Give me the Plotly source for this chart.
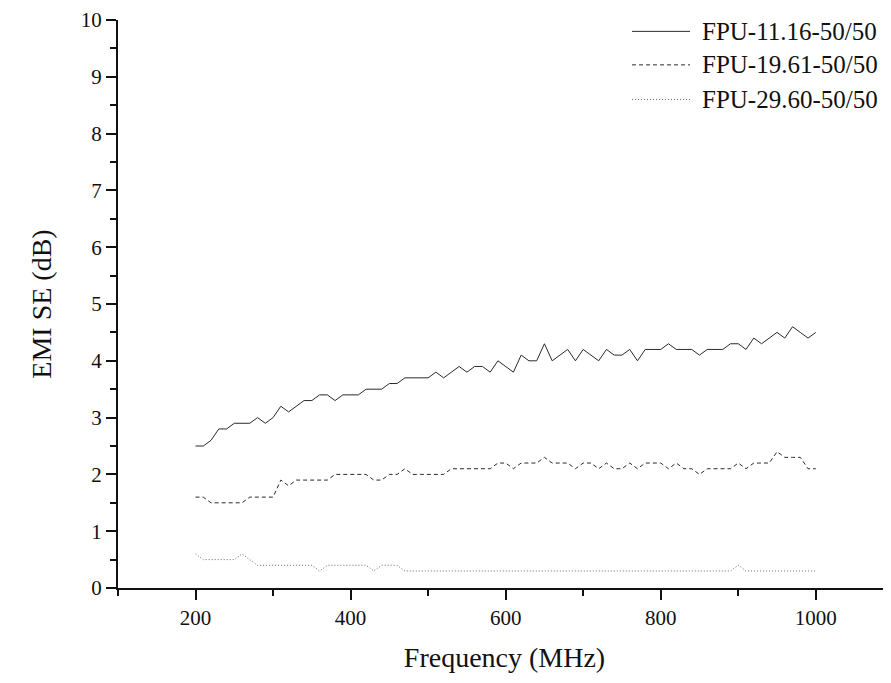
import plotly.graph_objects as go

freq = [200, 210, 220, 230, 240, 250, 260, 270, 280, 290,
        300, 310, 320, 330, 340, 350, 360, 370, 380, 390,
        400, 410, 420, 430, 440, 450, 460, 470, 480, 490,
        500, 510, 520, 530, 540, 550, 560, 570, 580, 590,
        600, 610, 620, 630, 640, 650, 660, 670, 680, 690,
        700, 710, 720, 730, 740, 750, 760, 770, 780, 790,
        800, 810, 820, 830, 840, 850, 860, 870, 880, 890,
        900, 910, 920, 930, 940, 950, 960, 970, 980, 990,
        1000]

fpu_11 = [2.5, 2.5, 2.6, 2.8, 2.8, 2.9, 2.9, 2.9, 3.0, 2.9,
          3.0, 3.2, 3.1, 3.2, 3.3, 3.3, 3.4, 3.4, 3.3, 3.4,
          3.4, 3.4, 3.5, 3.5, 3.5, 3.6, 3.6, 3.7, 3.7, 3.7,
          3.7, 3.8, 3.7, 3.8, 3.9, 3.8, 3.9, 3.9, 3.8, 4.0,
          3.9, 3.8, 4.1, 4.0, 4.0, 4.3, 4.0, 4.1, 4.2, 4.0,
          4.2, 4.1, 4.0, 4.2, 4.1, 4.1, 4.2, 4.0, 4.2, 4.2,
          4.2, 4.3, 4.2, 4.2, 4.2, 4.1, 4.2, 4.2, 4.2, 4.3,
          4.3, 4.2, 4.4, 4.3, 4.4, 4.5, 4.4, 4.6, 4.5, 4.4,
          4.5]

fpu_19 = [1.6, 1.6, 1.5, 1.5, 1.5, 1.5, 1.5, 1.6, 1.6, 1.6,
          1.6, 1.9, 1.8, 1.9, 1.9, 1.9, 1.9, 1.9, 2.0, 2.0,
          2.0, 2.0, 2.0, 1.9, 1.9, 2.0, 2.0, 2.1, 2.0, 2.0,
          2.0, 2.0, 2.0, 2.1, 2.1, 2.1, 2.1, 2.1, 2.1, 2.2,
          2.2, 2.1, 2.2, 2.2, 2.2, 2.3, 2.2, 2.2, 2.2, 2.1,
          2.2, 2.2, 2.1, 2.2, 2.1, 2.1, 2.2, 2.1, 2.2, 2.2,
          2.2, 2.1, 2.2, 2.1, 2.1, 2.0, 2.1, 2.1, 2.1, 2.1,
          2.2, 2.1, 2.2, 2.2, 2.2, 2.4, 2.3, 2.3, 2.3, 2.1,
          2.1]

fpu_29 = [0.6, 0.5, 0.5, 0.5, 0.5, 0.5, 0.6, 0.5, 0.4, 0.4,
          0.4, 0.4, 0.4, 0.4, 0.4, 0.4, 0.3, 0.4, 0.4, 0.4,
          0.4, 0.4, 0.4, 0.3, 0.4, 0.4, 0.4, 0.3, 0.3, 0.3,
          0.3, 0.3, 0.3, 0.3, 0.3, 0.3, 0.3, 0.3, 0.3, 0.3,
          0.3, 0.3, 0.3, 0.3, 0.3, 0.3, 0.3, 0.3, 0.3, 0.3,
          0.3, 0.3, 0.3, 0.3, 0.3, 0.3, 0.3, 0.3, 0.3, 0.3,
          0.3, 0.3, 0.3, 0.3, 0.3, 0.3, 0.3, 0.3, 0.3, 0.3,
          0.4, 0.3, 0.3, 0.3, 0.3, 0.3, 0.3, 0.3, 0.3, 0.3,
          0.3]

series_names = ["FPU-11.16-50/50", "FPU-19.61-50/50", "FPU-29.60-50/50"]
x_tick_vals = [200, 400, 600, 800, 1000]
x_tick_text = ["200", "400", "600", "800", "1000"]
y_tick_vals = [0, 1, 2, 3, 4, 5, 6, 7, 8, 9, 10]

FONT = "Liberation Serif, Times New Roman, serif"
INK = "#111111"
styles = [
    dict(color="#2a2a2a", width=1, dash="solid"),
    dict(color="#2a2a2a", width=1, dash="4px,3px"),
    dict(color="#6a6a6a", width=1, dash="1px,2px"),
]

fig = go.Figure()
for name, vals, st in zip(series_names, [fpu_11, fpu_19, fpu_29], styles):
    fig.add_trace(go.Scatter(x=freq, y=vals, mode="lines", name=name,
                             line=st, showlegend=False))

# manual legend (long line samples as in the reference)
legend_y = [0.980, 0.921, 0.860]
shapes = []
annotations = []
for name, st, ly in zip(series_names, styles, legend_y):
    shapes.append(dict(type="line", xref="paper", yref="paper", opacity=1,
                       layer="above",
                       x0=0.665, x1=0.740, y0=ly, y1=ly, line=st))
    annotations.append(dict(text=name, xref="paper", yref="paper",
                            x=0.753, y=ly, xanchor="left", yanchor="middle",
                            showarrow=False,
                            font=dict(family=FONT, size=25, color=INK)))

fig.update_layout(
    template="simple_white",
    width=883, height=675,
    margin=dict(l=110, r=0, t=9, b=95),
    paper_bgcolor="white", plot_bgcolor="white",
    font=dict(family=FONT, color=INK, size=21),
    shapes=shapes, annotations=annotations,
)
fig.update_xaxes(
    range=[100, 1097], showgrid=False, zeroline=False,
    showline=True, linecolor=INK, linewidth=2, mirror=False,
    ticks="outside", ticklen=10, tickwidth=2, tickcolor=INK,
    tickvals=x_tick_vals, ticktext=x_tick_text,
    tickfont=dict(family=FONT, size=21, color=INK),
    ticklabeloverflow="allow",
    minor=dict(tick0=100, dtick=100, ticks="outside", ticklen=6,
               tickwidth=2, tickcolor=INK, showgrid=False),
    title=dict(text="Frequency (MHz)", font=dict(family=FONT, size=28, color=INK),
               standoff=18),
)
fig.update_yaxes(
    range=[0, 10], showgrid=False, zeroline=False,
    showline=True, linecolor=INK, linewidth=2, mirror=False,
    ticks="outside", ticklen=10, tickwidth=2, tickcolor=INK,
    tickvals=y_tick_vals,
    tickfont=dict(family=FONT, size=21, color=INK),
    ticklabeloverflow="allow",
    minor=dict(tick0=0, dtick=0.5, ticks="outside", ticklen=6,
               tickwidth=2, tickcolor=INK, showgrid=False),
    title=dict(text="EMI SE (dB)", font=dict(family=FONT, size=28, color=INK),
               standoff=21),
)

fig.write_html("out.html")
